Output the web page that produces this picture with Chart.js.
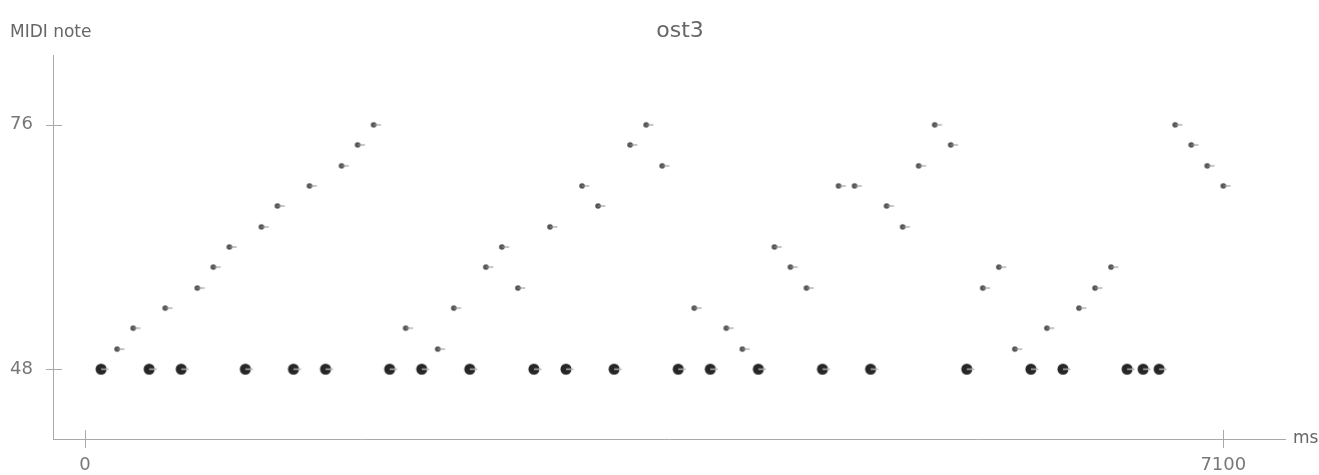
<!DOCTYPE html>
<html>
<head>
<meta charset="utf-8">
<script src="https://cdn.jsdelivr.net/npm/chart.js@4.4.1/dist/chart.umd.min.js"></script>
<style>
  body { margin: 0; background: #fff; }
</style>
</head>
<body>
<canvas id="chart" width="1319" height="475"></canvas>
<script>
// ost3: note onsets in ms and their pitch (MIDI note)
const chartTitle = 'ost3';
const xTicks = [0, 7100];
const yTicks = [48, 76];

// low pulse, all on note 48
const pulseTimes = [100, 400, 600, 1000, 1300, 1500, 1900, 2100, 2400, 2800, 3000, 3300,
                    3700, 3900, 4200, 4600, 4900, 5500, 5900, 6100, 6500, 6600, 6700];
const pulseNotes = [48, 48, 48, 48, 48, 48, 48, 48, 48, 48, 48, 48,
                    48, 48, 48, 48, 48, 48, 48, 48, 48, 48, 48];

// upper line
const lineTimes = [200, 300, 500, 700, 800, 900, 1100, 1200, 1400, 1600, 1700, 1800,
                   2000, 2200, 2300, 2500, 2600, 2700, 2900, 3100, 3200, 3400, 3500, 3600,
                   3800, 4000, 4100, 4300, 4400, 4500, 4700, 4800, 5000, 5100, 5200, 5300, 5400,
                   5600, 5700, 5800, 6000, 6200, 6300, 6400,
                   6800, 6900, 7000, 7100];
const lineNotes = [50.3, 52.7, 55, 57.3, 59.7, 62, 64.3, 66.7, 69, 71.3, 73.7, 76,
                   52.7, 50.3, 55, 59.7, 62, 57.3, 64.3, 69, 66.7, 73.7, 76, 71.3,
                   55, 52.7, 50.3, 62, 59.7, 57.3, 69, 69, 66.7, 64.3, 71.3, 76, 73.7,
                   57.3, 59.7, 50.3, 52.7, 55, 57.3, 59.7,
                   76, 73.7, 71.3, 69];

// marker images: dot with a short duration tail to the right
function noteMark(r, tail, fill, tailColor, tailWidth) {
  const c = document.createElement('canvas');
  const half = Math.ceil(r + tail + 1);
  c.width = half * 2;
  c.height = Math.ceil(r * 2 + 2);
  const g = c.getContext('2d');
  const cy = c.height / 2;
  g.fillStyle = fill;
  g.beginPath();
  g.arc(half, cy, r, 0, Math.PI * 2);
  g.fill();
  g.strokeStyle = tailColor;
  g.lineWidth = tailWidth;
  g.beginPath();
  g.moveTo(half, cy);
  g.lineTo(half + r + tail, cy);
  g.stroke();
  return c;
}
const smallMark = noteMark(2.8, 4.5, '#555', '#8a8a8a', 1);
const bigMark = noteMark(5.5, 2, '#262626', '#b0b0b0', 1.5);

const axisDecor = {
  id: 'axisDecor',
  afterDraw(chart) {
    const { ctx, chartArea, scales: { x, y } } = chart;
    ctx.save();
    ctx.strokeStyle = '#aaa';
    ctx.lineWidth = 1;
    ctx.beginPath();
    x.ticks.forEach(t => {
      const px = Math.round(x.getPixelForValue(t.value)) + 0.5;
      ctx.moveTo(px, chartArea.bottom - 9);
      ctx.lineTo(px, chartArea.bottom + 9);
    });
    y.ticks.forEach(t => {
      const py = Math.round(y.getPixelForValue(t.value)) + 0.5;
      ctx.moveTo(chartArea.left - 7, py);
      ctx.lineTo(chartArea.left + 9, py);
    });
    ctx.stroke();

    ctx.fillStyle = '#666';
    ctx.font = '17px "DejaVu Sans"';
    ctx.textAlign = 'left';
    ctx.textBaseline = 'alphabetic';
    ctx.fillText('MIDI note', 10, 37);
    ctx.textBaseline = 'middle';
    ctx.fillText('ms', chartArea.right + 8, chartArea.bottom);
    ctx.font = '22px "DejaVu Sans"';
    ctx.textAlign = 'center';
    ctx.textBaseline = 'alphabetic';
    ctx.fillText(chartTitle, 680, 37);
    ctx.restore();
  }
};

const tickFont = { family: 'DejaVu Sans', size: 18 };

new Chart(document.getElementById('chart'), {
  type: 'scatter',
  data: {
    datasets: [
      {
        label: 'pulse',
        data: pulseTimes.map((t, i) => ({ x: t, y: pulseNotes[i] })),
        pointStyle: bigMark,
        pointRadius: 6
      },
      {
        label: 'line',
        data: lineTimes.map((t, i) => ({ x: t, y: lineNotes[i] })),
        pointStyle: smallMark,
        pointRadius: 3
      }
    ]
  },
  options: {
    responsive: false,
    animation: false,
    layout: { padding: { top: 55, right: 34, left: 0, bottom: 0 } },
    plugins: { legend: { display: false }, tooltip: { enabled: false } },
    scales: {
      x: {
        type: 'linear',
        min: -200,
        max: 7485,
        afterBuildTicks: s => { s.ticks = xTicks.map(v => ({ value: v })); },
        afterFit: s => { s.height = 36; },
        grid: { display: false, drawTicks: false },
        border: { display: true, color: '#aaa', width: 1 },
        ticks: { color: '#777', font: tickFont, padding: 16, maxRotation: 0, callback: v => String(v) }
      },
      y: {
        type: 'linear',
        min: 40,
        max: 84,
        afterBuildTicks: s => { s.ticks = yTicks.map(v => ({ value: v })); },
        afterFit: s => { s.width = 53; },
        grid: { display: false, drawTicks: false },
        border: { display: true, color: '#aaa', width: 1 },
        ticks: { color: '#777', font: tickFont, padding: 20, callback: v => String(v) }
      }
    }
  },
  plugins: [axisDecor]
});
</script>
</body>
</html>
